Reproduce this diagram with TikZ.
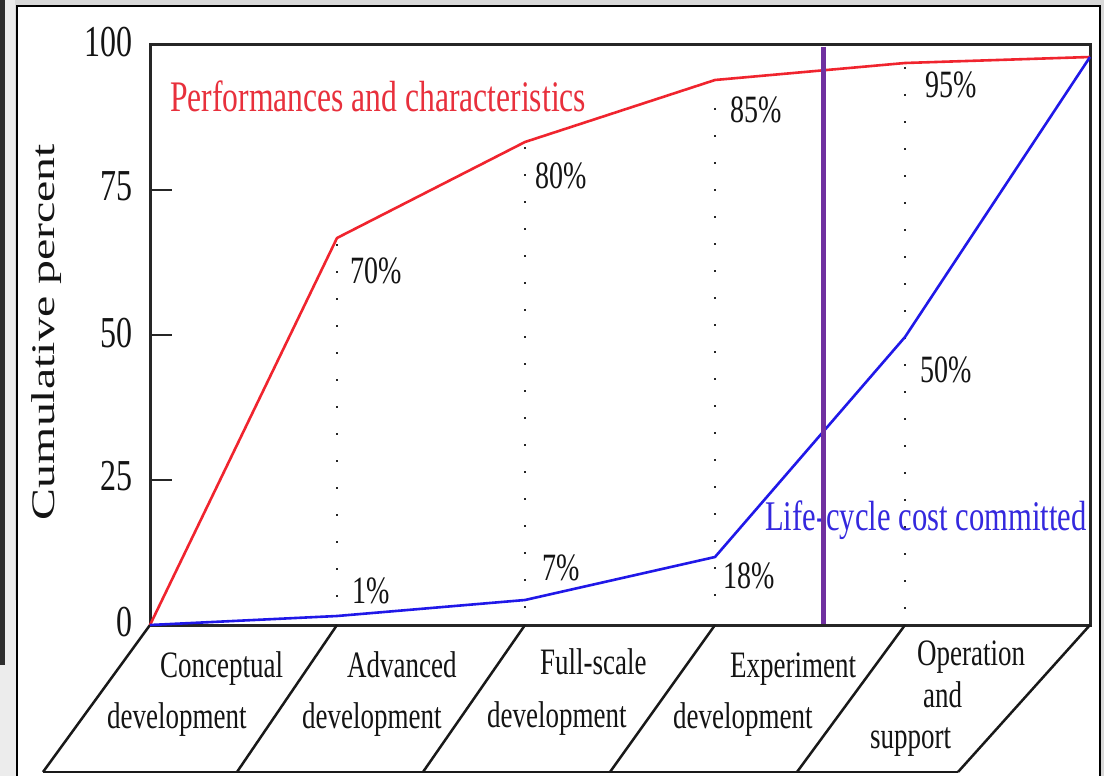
\documentclass[tikz,border=0pt]{standalone}
\usepackage{fontspec}
\setmainfont{Liberation Serif}
\usepackage{graphicx}
\newcommand{\vstr}[1]{\scalebox{1}[1.38]{#1}}
\definecolor{bggray}{RGB}{216,216,216}
\definecolor{striplight}{RGB}{236,236,236}
\definecolor{darkbar}{RGB}{45,45,45}
\definecolor{curvered}{RGB}{240,36,46}
\definecolor{textred}{RGB}{232,48,60}
\definecolor{curveblue}{RGB}{32,24,232}
\definecolor{textblue}{RGB}{52,40,222}
\definecolor{purpleline}{RGB}{112,48,160}
\definecolor{txt}{RGB}{20,20,20}
\tikzset{
  ticklab/.style={font=\fontsize{32}{38}\selectfont, anchor=base east, inner sep=0pt, text=txt},
  pct/.style={font=\fontsize{28}{34}\selectfont, anchor=base west, inner sep=0pt, text=txt},
  catlab/.style={font=\fontsize{27}{32}\selectfont, anchor=base west, inner sep=0pt, text=txt},
  serieslab/.style={anchor=base west, inner sep=0pt},
  frameline/.style={line width=3pt, black!85, line join=miter},
  slantline/.style={line width=2.5pt, black!90},
  tickline/.style={line width=2.5pt, black!85},
  dotline/.style={line width=2.8pt, black!85, dash pattern=on 2.2pt off 24.8pt},
  redcurve/.style={line width=2.6pt, curvered, line join=round},
  bluecurve/.style={line width=2.6pt, curveblue, line join=round},
  purplebar/.style={line width=5pt, purpleline}
}
\begin{document}
\begin{tikzpicture}[x=1pt,y=-1pt]
\useasboundingbox (0,0) rectangle (1104,776);
% background and card
\fill[bggray] (0,0) rectangle (1104,776);
\fill[striplight] (0,600) rectangle (17,776);
\fill[striplight] (5,0) rectangle (15,776);
\fill[darkbar] (0,0) rectangle (4.5,665);
\fill[white] (17,6) rectangle (1100,780);
\draw[line width=2pt, black] (17,780) -- (17,6) -- (1100,6) -- (1100,780);

% coordinates of the series
\coordinate (r0) at (150,625);
\coordinate (r1) at (337,238);
\coordinate (r2) at (525,142);
\coordinate (r3) at (715,80);
\coordinate (r4) at (905,63);
\coordinate (r5) at (1090,57);
\coordinate (b0) at (150,625);
\coordinate (b1) at (337,616);
\coordinate (b2) at (525,600);
\coordinate (b3) at (715,557);
\coordinate (b4) at (905,337);
\coordinate (b5) at (1090,57);

% dotted guide lines
\coordinate (d1t) at (337,244); \coordinate (d1b) at (337,620);
\coordinate (d2t) at (525,147); \coordinate (d2b) at (525,620);
\coordinate (d3t) at (715,108); \coordinate (d3b) at (715,620);
\coordinate (d4t) at (905,67);  \coordinate (d4b) at (905,620);
\draw[dotline] (d1t) -- (d1b);
\draw[dotline] (d2t) -- (d2b);
\draw[dotline] (d3t) -- (d3b);
\draw[dotline] (d4t) -- (d4b);

% frame and ticks
\coordinate (fTL) at (150,45);
\coordinate (fBR) at (1090,625);
\draw[frameline] (fTL) rectangle (fBR);
\draw[tickline] (150,190) -- (172,190);
\draw[tickline] (150,335) -- (172,335);
\draw[tickline] (150,480) -- (172,480);

% phase parallelograms
\coordinate (p0t) at (150,625);  \coordinate (p0b) at (43,772);
\coordinate (p1t) at (337,625);  \coordinate (p1b) at (237,772);
\coordinate (p2t) at (525,625);  \coordinate (p2b) at (423,772);
\coordinate (p3t) at (715,625);  \coordinate (p3b) at (610,772);
\coordinate (p4t) at (905,625);  \coordinate (p4b) at (797,772);
\coordinate (p5t) at (1090,625); \coordinate (p5b) at (958,772);
\draw[slantline] (p0b) -- (p5b);
\draw[slantline] (p0t) -- (p0b);
\draw[slantline] (p1t) -- (p1b);
\draw[slantline] (p2t) -- (p2b);
\draw[slantline] (p3t) -- (p3b);
\draw[slantline] (p4t) -- (p4b);
\draw[slantline] (p5t) -- (p5b);

% curves
\draw[redcurve] (r0) -- (r1) -- (r2) -- (r3) -- (r4) -- (r5);
\draw[bluecurve] (b0) -- (b1) -- (b2) -- (b3) -- (b4) -- (b5);

% tick labels
\node[ticklab] (t100) at (133,57) {\vstr{100}};
\node[ticklab] (t75) at (133,200) {\vstr{75}};
\node[ticklab] (t50) at (133,347) {\vstr{50}};
\node[ticklab] (t25) at (133,490) {\vstr{25}};
\node[ticklab] (t0) at (133,636) {\vstr{0}};

% axis label
\node[rotate=90, inner sep=0pt, font=\fontsize{33}{38}\selectfont, text=txt] (ylab) at (47,332) {\scalebox{1.45}[1]{Cumulative percent}};

% series labels
\node[serieslab, text=textred, font=\fontsize{31.6}{37}\selectfont] (perf) at (170,112) {\vstr{Performances and characteristics}};
\node[serieslab, text=textblue, font=\fontsize{30.6}{37}\selectfont] (lcc) at (765,530) {\vstr{Life-cycle cost committed}};

% percentages
\node[pct] (p70) at (350,283) {\vstr{70\%}};
\node[pct] (p80) at (535,188) {\vstr{80\%}};
\node[pct] (p85) at (730,122) {\vstr{85\%}};
\node[pct] (p95) at (925,98) {\vstr{95\%}};
\node[pct] (p1) at (352,603) {\vstr{1\%}};
\node[pct] (p7) at (542,580) {\vstr{7\%}};
\node[pct] (p18) at (723,588) {\vstr{18\%}};
\node[pct] (p50) at (920,382) {\vstr{50\%}};

% purple marker line
\coordinate (vTop) at (823,47);
\coordinate (vBot) at (823,624);
\draw[purplebar] (vTop) -- (vBot);

% phase labels
\node[catlab] (c1a) at (160,677) {\vstr{Conceptual}};
\node[catlab] (c1b) at (107,728) {\vstr{development}};
\node[catlab] (c2a) at (347,677) {\vstr{Advanced}};
\node[catlab] (c2b) at (302,728) {\vstr{development}};
\node[catlab] (c3a) at (540,674) {\vstr{Full-scale}};
\node[catlab] (c3b) at (487,727) {\vstr{development}};
\node[catlab] (c4a) at (730,677) {\vstr{Experiment}};
\node[catlab] (c4b) at (673,728) {\vstr{development}};
\node[catlab] (c5a) at (917,665) {\vstr{Operation}};
\node[catlab] (c5b) at (923,707) {\vstr{and}};
\node[catlab] (c5c) at (870,748) {\vstr{support}};
\end{tikzpicture}
\end{document}
